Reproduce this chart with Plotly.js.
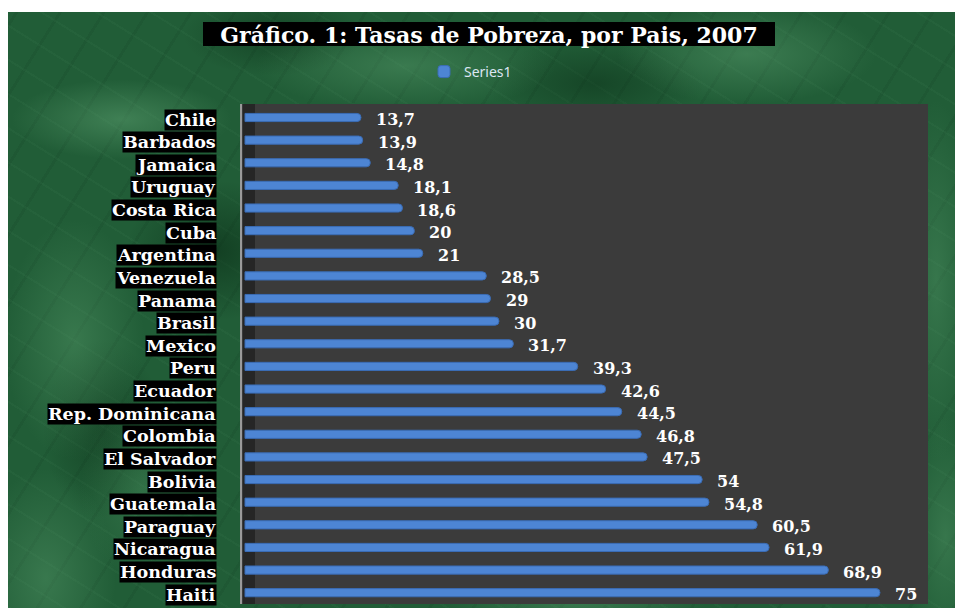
<!DOCTYPE html>
<html>
<head>
<meta charset="utf-8">
<script src="https://cdn.plot.ly/plotly-3.0.1.min.js"></script>
<style>
  html, body { margin: 0; padding: 0; background: #ffffff; width: 955px; height: 608px; overflow: hidden; }
  #bg {
    position: absolute; left: 8px; top: 12px; width: 947px; height: 596px;
    background:
      radial-gradient(ellipse 110px 40px at 12% 18%, rgba(100,170,120,0.45), transparent),
      radial-gradient(ellipse 150px 45px at 42% 9%, rgba(95,165,115,0.40), transparent),
      radial-gradient(ellipse 130px 50px at 78% 7%, rgba(100,170,120,0.40), transparent),
      radial-gradient(ellipse 70px 120px at 7% 55%, rgba(90,160,110,0.40), transparent),
      radial-gradient(ellipse 60px 90px at 14% 80%, rgba(80,150,100,0.35), transparent),
      radial-gradient(ellipse 70px 110px at 4% 95%, rgba(100,170,120,0.35), transparent),
      radial-gradient(ellipse 40px 180px at 98% 45%, rgba(95,165,115,0.35), transparent),
      radial-gradient(ellipse 40px 120px at 99% 88%, rgba(95,165,115,0.35), transparent),
      radial-gradient(ellipse 130px 30px at 60% 99%, rgba(100,170,120,0.35), transparent),
      radial-gradient(ellipse 90px 70px at 22% 40%, rgba(5,35,15,0.50), transparent),
      radial-gradient(ellipse 110px 45px at 62% 12%, rgba(5,35,15,0.40), transparent),
      radial-gradient(ellipse 90px 40px at 28% 4%, rgba(5,35,15,0.40), transparent),
      radial-gradient(ellipse 60px 90px at 10% 70%, rgba(5,35,15,0.40), transparent),
      repeating-linear-gradient(32deg, rgba(110,180,130,0.05) 0px, rgba(110,180,130,0.05) 2px, transparent 2px, transparent 29px),
      repeating-linear-gradient(-58deg, rgba(5,30,15,0.08) 0px, rgba(5,30,15,0.08) 3px, transparent 3px, transparent 37px),
      #215d37;
  }
  #chart { position: absolute; left: 0; top: 0; width: 955px; height: 608px; }
</style>
</head>
<body>
<div id="bg"></div>
<div id="chart"></div>
<script>
// ---- data ----
const countries = ["Chile", "Barbados", "Jamaica", "Uruguay", "Costa Rica", "Cuba", "Argentina",
  "Venezuela", "Panama", "Brasil", "Mexico", "Peru", "Ecuador", "Rep. Dominicana", "Colombia",
  "El Salvador", "Bolivia", "Guatemala", "Paraguay", "Nicaragua", "Honduras", "Haiti"];
const values = [13.7, 13.9, 14.8, 18.1, 18.6, 20, 21, 28.5, 29, 30, 31.7, 39.3, 42.6, 44.5,
  46.8, 47.5, 54, 54.8, 60.5, 61.9, 68.9, 75];
const seriesName = "Series1";
const titleText = "Gráfico. 1: Tasas de Pobreza, por Pais, 2007";

const serif = "DejaVu Serif, Liberation Serif, serif";

const trace = {
  type: "bar",
  orientation: "h",
  name: seriesName,
  x: values,
  y: countries,
  width: 0.36,
  marker: { color: "#4d85d4", line: { color: "#3a6cb5", width: 1 }, cornerradius: 4 },
  hoverinfo: "x+y",
  showlegend: true
};

const annotations = [];
countries.forEach((c, i) => {
  annotations.push({
    xref: "paper", x: 0, yref: "y", y: c,
    xanchor: "right", yanchor: "middle", xshift: -23, yshift: -2,
    text: "<b>" + c + "</b>", showarrow: false,
    bgcolor: "#000000", borderpad: 0,
    font: { family: serif, size: 17.5, color: "#ffffff" }
  });
  annotations.push({
    xref: "x", x: values[i], yref: "y", y: c,
    xanchor: "left", yanchor: "middle", xshift: 13, yshift: -2,
    text: "<b>" + String(values[i]).replace(".", ",") + "</b>", showarrow: false,
    font: { family: serif, size: 16, color: "#ffffff" }
  });
});

const layout = {
  width: 955, height: 608,
  margin: { l: 240, r: 27, t: 104, b: 4 },
  paper_bgcolor: "rgba(0,0,0,0)",
  plot_bgcolor: "#3b3b3b",
  separators: ",.",
  title: {
    text: "<b>" + titleText + "</b>",
    x: 489 / 955, xanchor: "center", xref: "container",
    y: 1 - 35 / 608, yanchor: "middle", yref: "container",
    font: { family: serif, size: 22, color: "#ffffff" }
  },
  xaxis: {
    range: [-0.59, 80.67], showgrid: false, zeroline: false,
    showticklabels: false, ticks: "", fixedrange: true
  },
  yaxis: {
    type: "category", autorange: "reversed", showgrid: false, zeroline: false,
    showticklabels: false, ticks: "", fixedrange: true
  },
  bargap: 0.64,
  showlegend: true,
  legend: {
    orientation: "h", x: (424 - 240) / 688, xanchor: "left",
    y: 1 + (104 - 56) / 500, yanchor: "top",
    bgcolor: "rgba(0,0,0,0)", itemwidth: 30,
    font: { family: "Noto Sans, Liberation Sans, sans-serif", size: 14, color: "#dce6f2" }
  },
  shapes: [
    { type: "rect", xref: "paper", yref: "paper", x0: (203 - 240) / 688, x1: (775 - 240) / 688,
      y0: 1 + (104 - 46) / 500, y1: 1 + (104 - 22) / 500,
      fillcolor: "#000000", line: { width: 0 }, layer: "below" },
    { type: "rect", xref: "paper", yref: "paper", x0: 3 / 688, x1: 15 / 688, y0: 0, y1: 1,
      fillcolor: "#262626", line: { width: 0 }, layer: "below" },
    { type: "line", xref: "paper", yref: "paper", x0: 1 / 688, x1: 1 / 688, y0: 0, y1: 1,
      line: { color: "#9a9a9a", width: 2 }, layer: "above" }
  ],
  annotations: annotations
};

Plotly.newPlot("chart", [trace], layout, { displayModeBar: false });
</script>
</body>
</html>
